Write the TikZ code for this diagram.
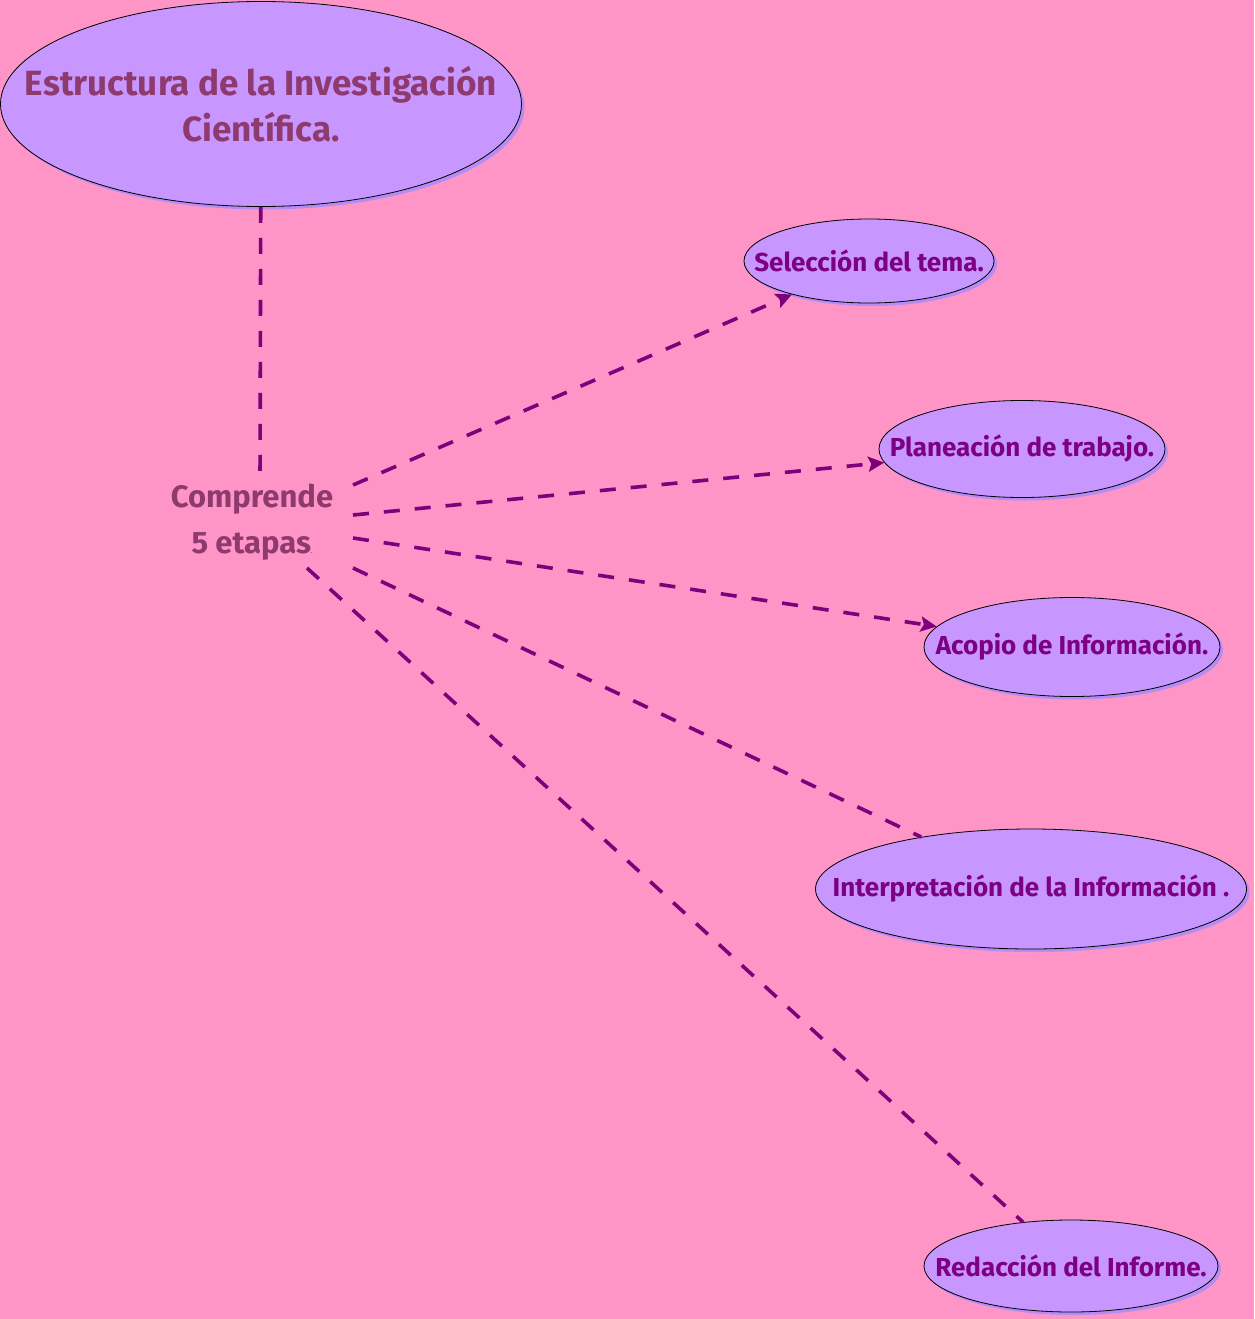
\documentclass[tikz,border=0pt]{standalone}
\usepackage{fontspec}
\setmainfont{Fira Sans}
\usetikzlibrary{shapes.geometric,shadows,arrows.meta}
\definecolor{bgpink}{RGB}{255,148,198}
\definecolor{ellfill}{RGB}{200,150,255}
\definecolor{ellshadow}{RGB}{180,140,245}
\definecolor{titletext}{RGB}{142,58,110}
\definecolor{stagetext}{RGB}{125,0,128}
\definecolor{linecol}{RGB}{125,0,125}
\tikzset{
  bubble/.style={ellipse, draw=black, line width=0.8pt, fill=ellfill, inner xsep=-90pt, inner ysep=-20pt,
    drop shadow={shadow xshift=3pt, shadow yshift=-3pt, fill=ellshadow, opacity=1},
    text=stagetext, font=\fontsize{26}{30}\selectfont\bfseries, align=center},
  titlebubble/.style={bubble, text=titletext, font=\fontsize{35}{46}\selectfont\bfseries},
  link/.style={draw=linecol, line width=3.6pt, dash pattern=on 16pt off 15pt},
  arrowlink/.style={link, -{Stealth[length=16pt,width=15pt,inset=3pt]}},
}
\begin{document}
\begin{tikzpicture}[x=1pt,y=-1pt]
\fill[bgpink] (0,0) rectangle (1254,1319);
\useasboundingbox (0,0) rectangle (1254,1319);
\node[titlebubble, minimum width=521pt, minimum height=205pt] (title) at (261,104) {Estructura de la Investigación\\Científica.};
\node[text=titletext, font=\fontsize{31}{46}\selectfont\bfseries, align=center] (comp) at (252,522) {Comprende\\5 etapas{\fontsize{6}{6}\selectfont .}};
\node[bubble, minimum width=250pt, minimum height=84pt] (sel) at (869,261) {Selección del tema.};
\node[bubble, minimum width=286pt, minimum height=97pt] (plan) at (1022,449) {Planeación de trabajo.};
\node[bubble, minimum width=296pt, minimum height=99pt] (acop) at (1072,647) {Acopio de Información.};
\node[bubble, minimum width=431pt, minimum height=120pt] (interp) at (1031,889) {Interpretación de la Información .};
\node[bubble, minimum width=294pt, minimum height=92pt] (red) at (1071,1266) {Redacción del Informe.};
\coordinate (c0) at (260,483);
\coordinate (c1) at (353,485);
\coordinate (c2) at (353,515);
\coordinate (c3) at (353,538);
\coordinate (c4) at (353,568);
\coordinate (c5) at (307,568);
\draw[link] (title) -- (c0);
\draw[arrowlink] (c1) -- (sel);
\draw[arrowlink] (c2) -- (plan);
\draw[arrowlink] (c3) -- (acop);
\draw[link] (c4) -- (interp);
\draw[link] (c5) -- (red);
\end{tikzpicture}
\end{document}
